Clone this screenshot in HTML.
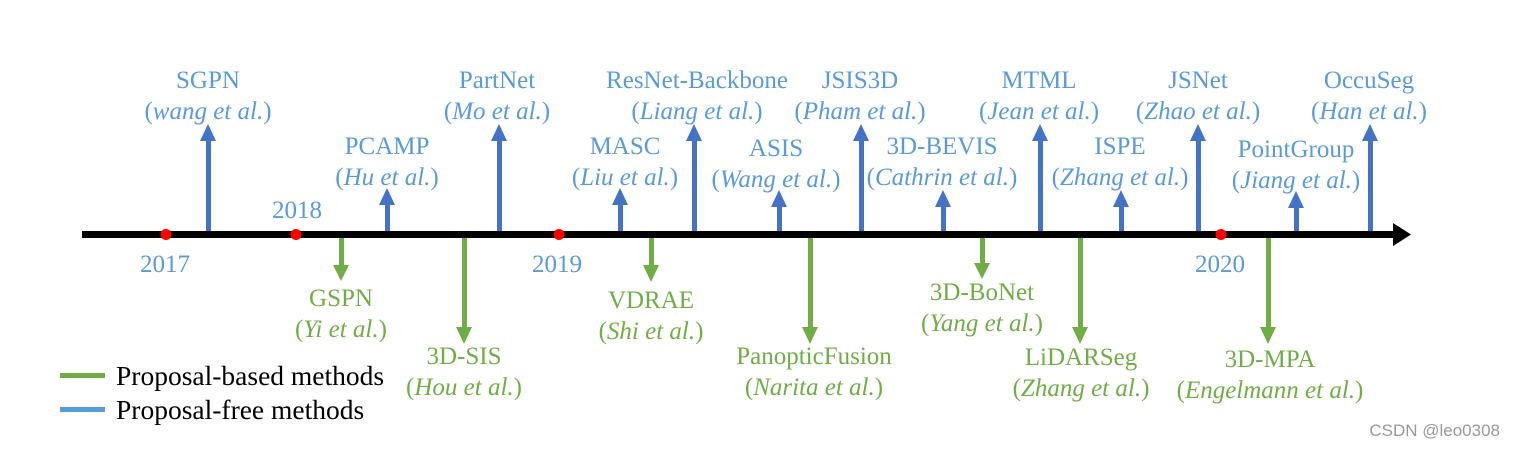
<!DOCTYPE html>
<html><head><meta charset="utf-8"><style>
body{margin:0;background:#fff}
svg text{font-family:"Liberation Serif",serif;font-size:25px;text-anchor:middle}
.b{fill:#5b9bd5}.g{fill:#70ad47}
</style></head><body>
<svg width="1515" height="446" xmlns="http://www.w3.org/2000/svg">
<rect x="82" y="231" width="1315" height="7" fill="#000"/>
<polygon points="1393,223 1411,234.5 1393,246" fill="#000"/>
<g fill="#4472c4">
<rect x="206" y="140" width="5" height="91"/><polygon points="200,141 208,124 216,141"/>
<rect x="385" y="204" width="5" height="27"/><polygon points="379,205 387,188 395,205"/>
<rect x="497" y="140" width="5" height="91"/><polygon points="491,141 499,124 507,141"/>
<rect x="618" y="204" width="5" height="27"/><polygon points="612,205 620,188 628,205"/>
<rect x="692" y="140" width="5" height="91"/><polygon points="686,141 694,124 702,141"/>
<rect x="777" y="206" width="5" height="25"/><polygon points="771,207 779,190 787,207"/>
<rect x="859" y="140" width="5" height="91"/><polygon points="853,141 861,124 869,141"/>
<rect x="941" y="206" width="5" height="25"/><polygon points="935,207 943,190 951,207"/>
<rect x="1038" y="140" width="5" height="91"/><polygon points="1032,141 1040,124 1048,141"/>
<rect x="1119" y="206" width="5" height="25"/><polygon points="1113,207 1121,190 1129,207"/>
<rect x="1196" y="140" width="5" height="91"/><polygon points="1190,141 1198,124 1206,141"/>
<rect x="1294" y="207" width="5" height="24"/><polygon points="1288,208 1296,191 1304,208"/>
<rect x="1368" y="140" width="5" height="91"/><polygon points="1362,141 1370,124 1378,141"/>
</g>
<g fill="#70ad47">
<rect x="339" y="238" width="5" height="28"/><polygon points="333,265 341,281 349,265"/>
<rect x="462" y="238" width="5" height="90"/><polygon points="456,327 464,344 472,327"/>
<rect x="649" y="238" width="5" height="28"/><polygon points="643,265 651,282 659,265"/>
<rect x="808" y="238" width="5" height="90"/><polygon points="802,327 810,344 818,327"/>
<rect x="980" y="238" width="5" height="26"/><polygon points="974,263 982,279 990,263"/>
<rect x="1078" y="238" width="5" height="90"/><polygon points="1072,327 1080,344 1088,327"/>
<rect x="1266" y="238" width="5" height="90"/><polygon points="1260,327 1268,344 1276,327"/>
</g>
<g fill="#ff0000">
<circle cx="166" cy="234.5" r="5.5"/><circle cx="296" cy="234.5" r="5.5"/><circle cx="559" cy="234.5" r="5.5"/><circle cx="1221" cy="234.5" r="5.5"/>
</g>
<g class="b" style="font-size:29px">
<text x="165" y="272">2017</text><text x="297" y="218">2018</text><text x="557" y="272">2019</text><text x="1220" y="272">2020</text>
</g>
<g class="b">
<text x="208" y="88">SGPN</text><text x="208" y="119">(<tspan font-style="italic">wang et al.</tspan>)</text>
<text x="387" y="154">PCAMP</text><text x="387" y="185">(<tspan font-style="italic">Hu et al.</tspan>)</text>
<text x="497" y="88">PartNet</text><text x="497" y="119">(<tspan font-style="italic">Mo et al.</tspan>)</text>
<text x="625" y="154">MASC</text><text x="625" y="185">(<tspan font-style="italic">Liu et al.</tspan>)</text>
<text x="697" y="88">ResNet-Backbone</text><text x="697" y="119">(<tspan font-style="italic">Liang et al.</tspan>)</text>
<text x="776" y="156">ASIS</text><text x="776" y="187">(<tspan font-style="italic">Wang et al.</tspan>)</text>
<text x="860" y="88">JSIS3D</text><text x="860" y="119">(<tspan font-style="italic">Pham et al.</tspan>)</text>
<text x="942" y="154">3D-BEVIS</text><text x="942" y="185">(<tspan font-style="italic">Cathrin et al.</tspan>)</text>
<text x="1039" y="88">MTML</text><text x="1039" y="119">(<tspan font-style="italic">Jean et al.</tspan>)</text>
<text x="1120" y="154">ISPE</text><text x="1120" y="185">(<tspan font-style="italic">Zhang et al.</tspan>)</text>
<text x="1198" y="88">JSNet</text><text x="1198" y="119">(<tspan font-style="italic">Zhao et al.</tspan>)</text>
<text x="1296" y="157">PointGroup</text><text x="1296" y="188">(<tspan font-style="italic">Jiang et al.</tspan>)</text>
<text x="1369" y="88">OccuSeg</text><text x="1369" y="119">(<tspan font-style="italic">Han et al.</tspan>)</text>
</g>
<g class="g">
<text x="341" y="306">GSPN</text><text x="341" y="337">(<tspan font-style="italic">Yi et al.</tspan>)</text>
<text x="464" y="364">3D-SIS</text><text x="464" y="395">(<tspan font-style="italic">Hou et al.</tspan>)</text>
<text x="651" y="308">VDRAE</text><text x="651" y="339">(<tspan font-style="italic">Shi et al.</tspan>)</text>
<text x="814" y="364">PanopticFusion</text><text x="814" y="395">(<tspan font-style="italic">Narita et al.</tspan>)</text>
<text x="982" y="300">3D-BoNet</text><text x="982" y="331">(<tspan font-style="italic">Yang et al.</tspan>)</text>
<text x="1081" y="365">LiDARSeg</text><text x="1081" y="396">(<tspan font-style="italic">Zhang et al.</tspan>)</text>
<text x="1270" y="367">3D-MPA</text><text x="1270" y="398">(<tspan font-style="italic">Engelmann et al.</tspan>)</text>
</g>
<rect x="60" y="373" width="45" height="5" fill="#70ad47"/>
<rect x="60" y="407" width="45" height="5" fill="#5b9bd5"/>
<text x="116" y="385" style="text-anchor:start;font-size:27.5px" fill="#000">Proposal-based methods</text>
<text x="116" y="419" style="text-anchor:start;font-size:27.5px" fill="#000">Proposal-free methods</text>
<text x="1500" y="436" style="text-anchor:end;font-family:'Liberation Sans',sans-serif;font-size:17px" fill="#999">CSDN @leo0308</text>
</svg>
</body></html>
